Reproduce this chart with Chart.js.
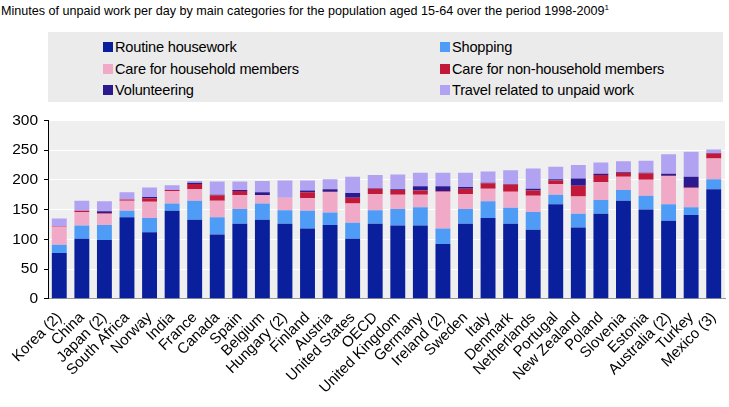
<!DOCTYPE html>
<html>
<head>
<meta charset="utf-8">
<script src="https://cdn.jsdelivr.net/npm/chart.js@4"></script>
<style>
  body { margin: 0; background: #fff; font-family: "Liberation Sans", Arial, sans-serif; }
  #wrap { position: relative; width: 729px; height: 407px; }
  #title { position: absolute; left: 1px; top: 3px; font-size: 12.6px; color: #000; white-space: nowrap; }
  #title sup { font-size: 8px; }
  #legend { position: absolute; left: 48px; top: 32px; width: 675px; height: 70px; background: #ebebeb; }
  .item { position: absolute; font-size: 14.6px; color: #000; white-space: nowrap; letter-spacing: -0.2px; }
  .item span { display: inline-block; width: 10px; height: 10px; margin-right: 2px; vertical-align: 0px; }
  #chartBox { position: absolute; left: 0; top: 105px; width: 729px; height: 302px; }
</style>
</head>
<body>
<div id="wrap">
  <div id="title">Minutes of unpaid work per day by main categories for the population aged 15-64 over the period 1998-2009<sup>1</sup></div>
  <div id="legend"></div>
  <div id="chartBox"><canvas id="chart"></canvas></div>
</div>
<script>
const countries = ['Korea (2)', 'China', 'Japan (2)', 'South Africa', 'Norway', 'India', 'France', 'Canada', 'Spain',
  'Belgium', 'Hungary (2)', 'Finland', 'Austria', 'United States', 'OECD', 'United Kingdom', 'Germany', 'Ireland (2)',
  'Sweden', 'Italy', 'Denmark', 'Netherlands', 'Portugal', 'New Zealand', 'Poland', 'Slovenia', 'Estonia',
  'Australia (2)', 'Turkey', 'Mexico (3)'];

const routine     = [77, 101, 99, 137, 112, 148, 133, 108, 126, 133, 126, 118, 124, 101, 126, 123, 123, 92, 126, 136, 126, 116, 159, 120, 143, 165, 150, 131, 141, 184];
const shopping    = [14, 22, 25, 11, 24, 12, 32, 29, 25, 27, 23, 30, 21, 27, 23, 28, 31, 26, 25, 28, 27, 30, 16, 23, 23, 18, 23, 28, 13, 17];
const careHH      = [30, 23, 19, 17, 27, 21, 19, 28, 23, 14, 21, 21, 34, 32, 27, 24, 21, 62, 25, 21, 27, 27, 18, 29, 30, 22, 27, 47, 32, 35];
const careNonHH   = [1, 2, 1, 2, 6, 2, 9, 9, 7, 0, 0, 10, 1, 10, 9, 8, 7, 1, 9, 9, 12, 9, 6, 18, 12, 7, 11, 1, 1, 8];
const volunteer   = [0, 0, 3, 0, 2, 0, 2, 1, 2, 5, 0, 3, 4, 8, 1, 1, 7, 8, 3, 1, 1, 3, 2, 12, 2, 1, 1, 3, 18, 1];
const travel      = [13, 17, 17, 12, 16, 8, 3, 22, 14, 19, 29, 17, 17, 27, 22, 25, 23, 23, 24, 19, 23, 34, 21, 23, 19, 18, 20, 33, 42, 6];
const yTicks = [0, 50, 100, 150, 200, 250, 300];

const series = [
  { label: 'Routine housework', data: routine, color: '#0a1f9c' },
  { label: 'Shopping', data: shopping, color: '#4e9cf6' },
  { label: 'Care for household members', data: careHH, color: '#f1a9c8' },
  { label: 'Care for non-household members', data: careNonHH, color: '#c2183a' },
  { label: 'Volunteering', data: volunteer, color: '#2b1a8f' },
  { label: 'Travel related to unpaid work', data: travel, color: '#b1a2f2' }
];

// legend, two columns
const legendEl = document.getElementById('legend');
series.forEach((s, i) => {
  const d = document.createElement('div');
  d.className = 'item';
  d.style.left = (i % 2 === 0 ? 55 : 392) + 'px';
  d.style.top = (7 + Math.floor(i / 2) * 21.5) + 'px';
  d.innerHTML = '<span style="background:' + s.color + '"></span>' + s.label;
  legendEl.appendChild(d);
});

const plotBg = {
  id: 'plotBg',
  beforeDraw(chart) {
    const a = chart.chartArea, c = chart.ctx;
    c.save();
    c.fillStyle = '#efefef';
    c.fillRect(a.left, a.top, a.right - a.left, a.bottom - a.top);
    c.restore();
  }
};

new Chart(document.getElementById('chart'), {
  type: 'bar',
  data: {
    labels: countries,
    datasets: series.map(s => ({
      label: s.label, data: s.data, backgroundColor: s.color,
      categoryPercentage: 1, barPercentage: 0.66, borderWidth: 0
    }))
  },
  options: {
    responsive: true, maintainAspectRatio: false, animation: false,
    layout: { padding: { top: 11, right: 4, left: 0, bottom: 8 } },
    plugins: { legend: { display: false }, tooltip: { enabled: false } },
    scales: {
      x: {
        stacked: true,
        grid: { display: false },
        border: { color: '#999' },
        ticks: { color: '#000', font: { family: 'Liberation Sans', size: 15 }, maxRotation: 45, minRotation: 45, autoSkip: false, padding: 2 }
      },
      y: {
        stacked: true, min: 0, max: 300,
        afterBuildTicks(axis) { axis.ticks = yTicks.map(v => ({ value: v })); },
        afterFit(axis) { axis.width = 48; },
        grid: { color: '#ffffff', lineWidth: 1, tickColor: '#000', tickLength: 4 },
        border: { color: '#000' },
        ticks: { color: '#000', font: { family: 'Liberation Sans', size: 15.5 }, padding: 6 }
      }
    }
  },
  plugins: [plotBg]
});
</script>
</body>
</html>
